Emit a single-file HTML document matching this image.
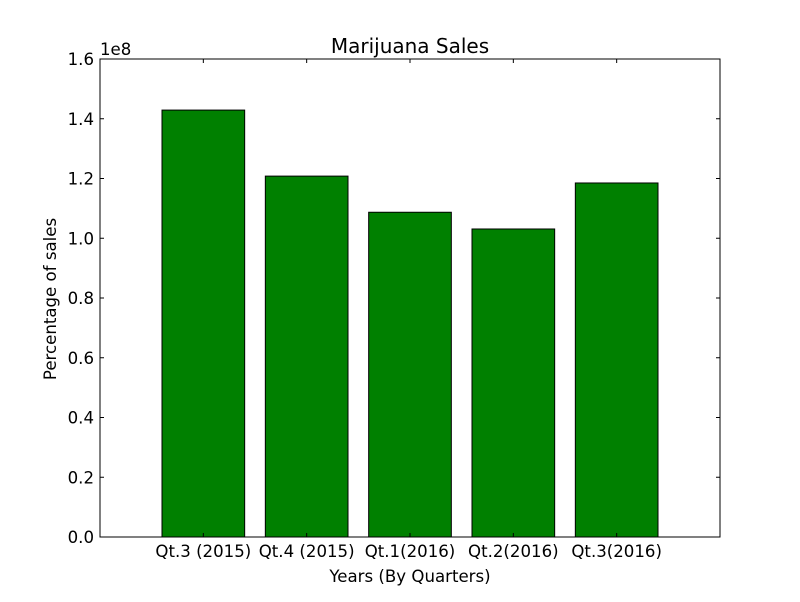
<!DOCTYPE html>
<html><head><meta charset="utf-8"><style>
body{margin:0;background:#fff;width:800px;height:597px;overflow:hidden}
svg text{font-family:"DejaVu Sans","Liberation Sans",sans-serif;fill:#000}
</style></head><body>
<svg id="chart" width="800" height="597" xmlns="http://www.w3.org/2000/svg">
<rect width="800" height="597" fill="#fff"/>
<g id="plot"></g>
</svg>
<script>
const categories = ["Qt.3 (2015)", "Qt.4 (2015)", "Qt.1(2016)", "Qt.2(2016)", "Qt.3(2016)"];
const sales = [1.429e8, 1.208e8, 1.087e8, 1.031e8, 1.185e8];
const yTicks = [0, 0.2e8, 0.4e8, 0.6e8, 0.8e8, 1.0e8, 1.2e8, 1.4e8, 1.6e8];
const yTickLabels = ["0.0","0.2","0.4","0.6","0.8","1.0","1.2","1.4","1.6"];

const L=100,R=720,T=59,B=537;
const xMin=-1,xMax=5,yMin=0,yMax=1.6e8;
const xs=v=>L+(v-xMin)/(xMax-xMin)*(R-L);
const ys=v=>B-(v-yMin)/(yMax-yMin)*(B-T);
const g=document.getElementById('plot');
const NS="http://www.w3.org/2000/svg";
function mk(tag,attrs,text){const e=document.createElementNS(NS,tag);for(const k in attrs)e.setAttribute(k,attrs[k]);if(text!==undefined)e.textContent=text;g.appendChild(e);return e;}

sales.forEach((v,i)=>{
  const x0=xs(i-0.4),x1=xs(i+0.4);
  const r=mk('rect',{x:x0,y:ys(v),width:x1-x0,height:ys(0)-ys(v),fill:'#008000',stroke:'#000','stroke-width':1});
  
  
});

const frame=mk('rect',{x:L,y:T,width:R-L,height:B-T,fill:'none',stroke:'#000','stroke-width':1});



yTicks.forEach((v,i)=>{
  const y=ys(v);
  mk('line',{x1:L,x2:L+4,y1:y,y2:y,stroke:'#000'});
  mk('line',{x1:R,x2:R-4,y1:y,y2:y,stroke:'#000'});
  const t=mk('text',{x:L-6,y:y+6,'text-anchor':'end','font-size':16.6},yTickLabels[i]);
  
  
});
categories.forEach((c,i)=>{
  const x=xs(i);
  mk('line',{x1:x,x2:x,y1:B,y2:B-4,stroke:'#000'});
  mk('line',{x1:x,x2:x,y1:T,y2:T+4,stroke:'#000'});
  const t=mk('text',{x:x,y:557,'text-anchor':'middle','font-size':16.6},c);
  
  
});
let t;
t=mk('text',{x:100,y:55,'font-size':16.6},'1e8');


t=mk('text',{x:410,y:53,'text-anchor':'middle','font-size':20},'Marijuana Sales');


t=mk('text',{x:410,y:582,'text-anchor':'middle','font-size':16.6},'Years (By Quarters)');


t=mk('text',{x:56,y:299,'text-anchor':'middle','font-size':16.6,transform:'rotate(-90 56 299)'},'Percentage of sales');


</script>
</body></html>
